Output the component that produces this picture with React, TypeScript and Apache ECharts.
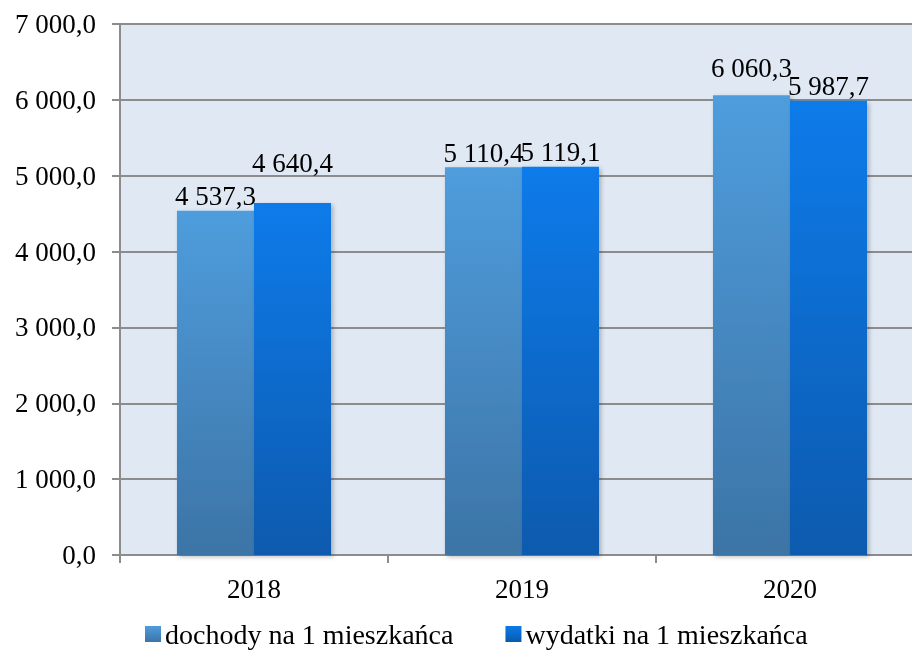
import React, { useEffect, useRef } from "react";
import * as echarts from "echarts";

const categories = ["2018", "2019", "2020"];
const seriesNames = ["dochody na 1 mieszkańca", "wydatki na 1 mieszkańca"];
const dochody = [4537.3, 5110.4, 6060.3];
const wydatki = [4640.4, 5119.1, 5987.7];
const yTicks = { min: 0, max: 7000, interval: 1000 };

const fmt = (v: number) => {
  const s = v.toFixed(1);
  const [i, d] = s.split(".");
  return i.replace(/\B(?=(\d{3})+(?!\d))/g, " ") + "," + d;
};

const FONT = "Liberation Serif";

export default function App() {
  const ref = useRef<HTMLDivElement>(null);
  useEffect(() => {
    if (!ref.current) return;
    const chart = echarts.init(ref.current, null, { renderer: "svg" });
    const grad1 = new echarts.graphic.LinearGradient(0, 0, 0, 1, [
      { offset: 0, color: "#4f9ddd" },
      { offset: 1, color: "#3c74a6" },
    ]);
    const grad2 = new echarts.graphic.LinearGradient(0, 0, 0, 1, [
      { offset: 0, color: "#0b7bea" },
      { offset: 1, color: "#095aae" },
    ]);
    const labelBase = {
      show: true,
      position: "top" as const,
      distance: 1,
      color: "#000",
      fontFamily: FONT,
      fontSize: 27,
      formatter: (p: any) => fmt(p.value),
    };
    const shadow = {
      shadowBlur: 4,
      shadowOffsetX: 2,
      shadowOffsetY: 2,
      shadowColor: "rgba(0,0,0,0.25)",
    };
    chart.setOption({
      animation: false,
      grid: {
        left: 120,
        right: 0,
        top: 24,
        bottom: 101,
        show: true,
        backgroundColor: "#dfe8f3",
        borderWidth: 0,
      },
      legend: {
        top: 619,
        left: 145,
        padding: 0,
        itemWidth: 16,
        itemHeight: 16,
        itemGap: 52,
        icon: "rect",
        textStyle: {
          fontFamily: FONT,
          fontSize: 28,
          lineHeight: 30,
          color: "#000",
          padding: [0, 0, 0, -1],
        },
        data: seriesNames,
      },
      xAxis: {
        type: "category",
        data: categories,
        axisLine: { lineStyle: { color: "#8c8c8c", width: 2 } },
        axisTick: { show: true, length: 8, lineStyle: { color: "#8c8c8c", width: 2 } },
        axisLabel: { fontFamily: FONT, fontSize: 27, color: "#000", margin: 20 },
      },
      yAxis: {
        type: "value",
        min: yTicks.min,
        max: yTicks.max,
        interval: yTicks.interval,
        axisLine: { show: true, lineStyle: { color: "#8c8c8c", width: 2 } },
        axisTick: { show: true, length: 8, lineStyle: { color: "#8c8c8c", width: 2 } },
        splitLine: { lineStyle: { color: "#8c8c8c", width: 2 } },
        axisLabel: {
          fontFamily: FONT,
          fontSize: 27,
          color: "#000",
          margin: 24,
          formatter: (v: number) => fmt(v),
        },
      },
      series: [
        {
          name: seriesNames[0],
          type: "bar",
          barGap: "0%",
          barCategoryGap: "42.5%",
          itemStyle: { color: grad1, ...shadow },
          label: labelBase,
          data: dochody.map((v, i) =>
            i === 2 ? { value: v, label: { distance: 14 } } : v
          ),
        },
        {
          name: seriesNames[1],
          type: "bar",
          itemStyle: { color: grad2, ...shadow },
          label: labelBase,
          data: wydatki.map((v, i) =>
            i === 0 ? { value: v, label: { distance: 26 } } : v
          ),
        },
      ],
    });
    return () => chart.dispose();
  }, []);
  return (
    <div style={{ position: "fixed", left: 0, top: 0, width: 912, height: 656, overflow: "hidden" }}>
      <div ref={ref} style={{ width: 924, height: 656 }} />
    </div>
  );
}
